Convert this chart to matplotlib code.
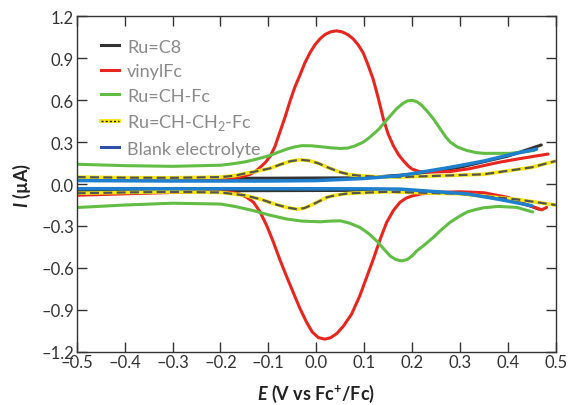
import matplotlib
matplotlib.use("Agg")
import matplotlib.pyplot as plt
from matplotlib.ticker import FuncFormatter
from matplotlib.lines import Line2D

# ---------------- data ----------------
# Ru=C8 (black)
c8_up_x = [-0.5, -0.3, -0.1, 0.1, 0.2, 0.3, 0.4, 0.47]
c8_up_y = [0.042, 0.042, 0.042, 0.045, 0.07, 0.12, 0.2, 0.28]
c8_dn_x = [-0.5, -0.3, -0.1, 0.1, 0.2, 0.3, 0.4, 0.45, 0.465]
c8_dn_y = [-0.048, -0.048, -0.047, -0.045, -0.05, -0.065, -0.11, -0.16, -0.18]

# vinylFc (red)
vfc_up_x = [-0.5, -0.4, -0.3, -0.2, -0.17, -0.15, -0.138, -0.127, -0.117, -0.106,
            -0.096, -0.086, -0.076, -0.065, -0.055, -0.045, -0.034, -0.024, -0.013, -0.003,
            0.008, 0.018, 0.03, 0.042, 0.054, 0.066, 0.077, 0.088, 0.098, 0.108,
            0.119, 0.13, 0.14, 0.15, 0.161, 0.172, 0.182, 0.192, 0.20, 0.215,
            0.23, 0.28, 0.32, 0.38, 0.43, 0.484]
vfc_up_y = [0.03, 0.03, 0.03, 0.035, 0.045, 0.058, 0.07, 0.09, 0.12, 0.155,
            0.20, 0.27, 0.37, 0.48, 0.59, 0.69, 0.78, 0.865, 0.94, 0.995,
            1.04, 1.07, 1.09, 1.097, 1.09, 1.07, 1.04, 0.995, 0.94, 0.855,
            0.75, 0.61, 0.47, 0.36, 0.275, 0.21, 0.167, 0.13, 0.108, 0.09,
            0.085, 0.09, 0.11, 0.155, 0.185, 0.215]
vfc_dn_x = [-0.5, -0.4, -0.3, -0.2, -0.175, -0.159, -0.145, -0.131, -0.117, -0.103,
            -0.09, -0.076, -0.062, -0.048, -0.034, -0.02, -0.008, 0.005, 0.018, 0.03,
            0.043, 0.057, 0.074, 0.091, 0.105, 0.119, 0.133, 0.147, 0.161, 0.175,
            0.188, 0.2, 0.22, 0.25, 0.3, 0.35, 0.4, 0.446, 0.471, 0.481]
vfc_dn_y = [-0.08, -0.07, -0.06, -0.055, -0.06, -0.072, -0.095, -0.13, -0.20, -0.30,
            -0.41, -0.54, -0.66, -0.776, -0.89, -0.99, -1.06, -1.10, -1.11, -1.10,
            -1.07, -1.016, -0.93, -0.80, -0.67, -0.54, -0.40, -0.275, -0.19, -0.13,
            -0.10, -0.085, -0.07, -0.06, -0.055, -0.062, -0.095, -0.155, -0.184, -0.167]

# Ru=CH-Fc (green)
chfc_up_x = [-0.5, -0.4, -0.3, -0.2, -0.175, -0.15, -0.125, -0.096, -0.078, -0.06,
             -0.045, -0.03, -0.01, 0.008, 0.03, 0.05, 0.066, 0.08, 0.098, 0.11,
             0.12, 0.13, 0.14, 0.155, 0.168, 0.18, 0.19, 0.2, 0.21, 0.22,
             0.232, 0.245, 0.26, 0.27, 0.28, 0.295, 0.315, 0.335, 0.349, 0.404, 0.455]
chfc_up_y = [0.142, 0.132, 0.127, 0.135, 0.145, 0.158, 0.178, 0.205, 0.23, 0.252,
             0.266, 0.275, 0.274, 0.268, 0.26, 0.255, 0.258, 0.272, 0.30, 0.33,
             0.36, 0.39, 0.43, 0.49, 0.54, 0.575, 0.595, 0.60, 0.59, 0.565,
             0.52, 0.466, 0.39, 0.34, 0.30, 0.265, 0.24, 0.225, 0.22, 0.22, 0.24]
chfc_dn_x = [-0.5, -0.4, -0.3, -0.2, -0.17, -0.131, -0.1, -0.062, -0.03, 0.008,
             0.03, 0.05, 0.07, 0.091, 0.108, 0.126, 0.14, 0.154, 0.166, 0.178,
             0.19, 0.2, 0.21, 0.228, 0.245, 0.262, 0.279, 0.297, 0.315, 0.33,
             0.349, 0.38, 0.419, 0.452]
chfc_dn_y = [-0.168, -0.15, -0.137, -0.143, -0.16, -0.19, -0.22, -0.25, -0.265, -0.27,
             -0.265, -0.263, -0.28, -0.31, -0.35, -0.406, -0.46, -0.514, -0.54, -0.55,
             -0.54, -0.515, -0.478, -0.43, -0.38, -0.325, -0.275, -0.235, -0.20, -0.185,
             -0.17, -0.16, -0.167, -0.20]

# Ru=CH-CH2-Fc (yellow / dashed)
chch2_up_x = [-0.5, -0.4, -0.3, -0.2, -0.17, -0.15, -0.12, -0.096, -0.075, -0.055,
              -0.034, -0.015, 0.005, 0.025, 0.05, 0.07, 0.091, 0.13, 0.175, 0.35,
              0.45, 0.5]
chch2_up_y = [0.05, 0.046, 0.045, 0.05, 0.06, 0.075, 0.095, 0.113, 0.14, 0.163,
              0.174, 0.168, 0.148, 0.118, 0.085, 0.068, 0.06, 0.052, 0.05, 0.07,
              0.12, 0.165]
chch2_dn_x = [-0.5, -0.4, -0.3, -0.2, -0.15, -0.117, -0.1, -0.085, -0.062, -0.04,
              -0.025, -0.013, 0.005, 0.022, 0.04, 0.06, 0.077, 0.15, 0.3, 0.42, 0.5]
chch2_dn_y = [-0.066, -0.06, -0.056, -0.06, -0.08, -0.108, -0.127, -0.145, -0.167, -0.18,
              -0.172, -0.155, -0.125, -0.095, -0.08, -0.07, -0.065, -0.055, -0.07, -0.11, -0.15]

# Blank electrolyte (blue)
blank_up_x = [-0.5, -0.3, -0.1, 0.0, 0.1, 0.175, 0.28, 0.35, 0.404, 0.46]
blank_up_y = [0.025, 0.022, 0.022, 0.025, 0.04, 0.06, 0.12, 0.165, 0.21, 0.25]
blank_dn_x = [-0.5, -0.3, -0.1, 0.1, 0.175, 0.315, 0.383, 0.45]
blank_dn_y = [-0.033, -0.033, -0.033, -0.034, -0.036, -0.07, -0.11, -0.155]

labels = ["Ru=C8", "vinylFc", "Ru=CH-Fc", "Ru=CH-CH$_2$-Fc", "Blank electrolyte"]
x_ticks = [-0.5, -0.4, -0.3, -0.2, -0.1, 0.0, 0.1, 0.2, 0.3, 0.4, 0.5]
y_ticks = [-1.2, -0.9, -0.6, -0.3, 0.0, 0.3, 0.6, 0.9, 1.2]

# ---------------- style ----------------
plt.rcParams['font.family'] = ['Lato', 'DejaVu Sans']
plt.rcParams['mathtext.fontset'] = 'custom'
plt.rcParams['mathtext.rm'] = 'Lato'
plt.rcParams['mathtext.it'] = 'Lato:bold:italic'
plt.rcParams['mathtext.bf'] = 'Lato:bold'

RED = '#e8251e'
GREEN = '#62bd45'
BLUE = '#1e7fcf'
BLACK = '#333333'
YELLOW = '#f5e614'
DASH = '#555550'
LW = 2.2

fig = plt.figure(figsize=(5.70, 4.06), dpi=100)
ax = fig.add_axes([0.1346, 0.1313, 0.9749 - 0.1346, 0.957 - 0.1313])

ax.plot(c8_up_x, c8_up_y, color=BLACK, lw=LW, solid_capstyle='round')
ax.plot(c8_dn_x, c8_dn_y, color=BLACK, lw=LW, solid_capstyle='round')
ax.plot(vfc_up_x, vfc_up_y, color=RED, lw=LW, solid_capstyle='round')
ax.plot(vfc_dn_x, vfc_dn_y, color=RED, lw=LW, solid_capstyle='round')
ax.plot(chfc_up_x, chfc_up_y, color=GREEN, lw=LW, solid_capstyle='round')
ax.plot(chfc_dn_x, chfc_dn_y, color=GREEN, lw=LW, solid_capstyle='round')
for xs, ys in [(chch2_up_x, chch2_up_y), (chch2_dn_x, chch2_dn_y)]:
    ax.plot(xs, ys, color=YELLOW, lw=LW + 0.4)
    ax.plot(xs, ys, color=DASH, lw=LW - 0.6, dashes=(4, 2))
ax.plot(blank_up_x, blank_up_y, color=BLUE, lw=LW + 0.3, solid_capstyle='round')
ax.plot(blank_dn_x, blank_dn_y, color=BLUE, lw=LW + 0.3, solid_capstyle='round')

ax.set_xlim(-0.5, 0.5)
ax.set_ylim(-1.2, 1.2)
ax.set_xticks(x_ticks)
ax.set_yticks(y_ticks)

def fmt(v, pos):
    s = f"{abs(v):.1f}"
    return ("\u2013" + s) if v < -1e-9 else s

ax.xaxis.set_major_formatter(FuncFormatter(fmt))
ax.yaxis.set_major_formatter(FuncFormatter(fmt))
ax.tick_params(direction='in', length=7, width=1.0, top=True, right=True,
               labelsize=12, colors='#333333', labelcolor='#333333', pad=2)
for sp in ax.spines.values():
    sp.set_color('#333333')
    sp.set_linewidth(1.0)

ax.set_xlabel(r'$E$ (V vs Fc$^{\mathbf{+}}$/Fc)', fontsize=13, fontweight='bold',
              color='#222222', labelpad=8)
ax.set_ylabel(r'$I$ (µA)', fontsize=13, fontweight='bold', color='#222222', labelpad=6)

handles = [
    Line2D([], [], color=BLACK, lw=LW),
    Line2D([], [], color=RED, lw=LW),
    Line2D([], [], color=GREEN, lw=LW),
    (Line2D([], [], color=YELLOW, lw=LW + 0.6), Line2D([], [], color='#222222', lw=1.0, dashes=(1.5, 1.5))),
    Line2D([], [], color='#2f4fa8', lw=LW),
]
leg = ax.legend(handles, labels, loc='upper left', frameon=False, fontsize=13,
                handlelength=1.0, handletextpad=0.45, labelspacing=0.47,
                bbox_to_anchor=(0.035, 0.955), borderaxespad=0.0)
for t in leg.get_texts():
    t.set_color('#8a8a8a')

fig.savefig('out.png', dpi=100)
